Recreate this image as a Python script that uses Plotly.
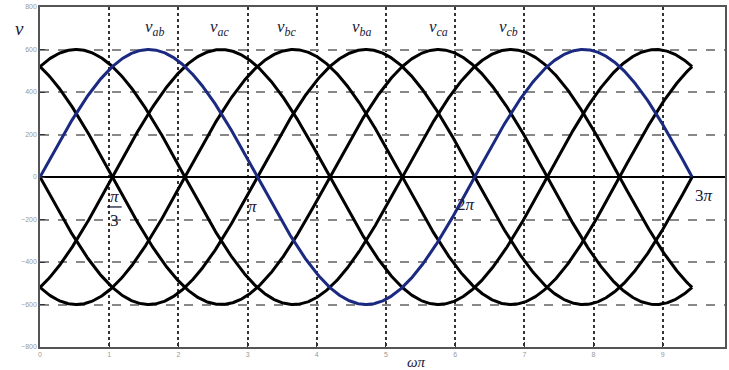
import numpy as np
import plotly.graph_objects as go

# Line-to-line voltages of a three-phase source, peak 600 V
amplitude = 600
phase_names = ["v_ab", "v_ac", "v_bc", "v_ba", "v_ca", "v_cb"]
phase_shift_steps = [0, 1, 2, 3, 4, 5]          # shift in multiples of pi/3
curve_colors = ["#1b2a80", "black", "black", "black", "black", "black"]

x_end = 3 * np.pi
label_x = [1.66, 2.59, 3.56, 4.64, 5.76, 6.77]
label_y = [700, 700, 700, 700, 700, 700]
label_subs = ["ab", "ac", "bc", "ba", "ca", "cb"]

y_ticks = [-800, -600, -400, -200, 0, 200, 400, 600, 800]
x_ticks = [0, 1, 2, 3, 4, 5, 6, 7, 8, 9]

wt = np.linspace(0, x_end, 800)

fig = go.Figure()
order = [1, 2, 3, 4, 5, 0]   # draw the blue wave last so it sits on top
for i in order:
    k = phase_shift_steps[i]
    fig.add_trace(go.Scatter(
        x=wt, y=amplitude * np.sin(wt - k * np.pi / 3),
        mode="lines", name=phase_names[i],
        line=dict(color=curve_colors[i], width=3),
        hoverinfo="skip",
    ))

serif = "Liberation Serif, Times New Roman, serif"
label_color = "#1a1a3a"

for lx, ly, sub in zip(label_x, label_y, label_subs):
    fig.add_annotation(x=lx, y=ly, text=f"<i>v<sub>{sub}</sub></i>", showarrow=False,
                       font=dict(family=serif, size=17, color=label_color))

# vertical axis symbol, left of the plot box
fig.add_annotation(xref="paper", yref="y", x=-0.04, y=700,
                   text="<i>v</i>", showarrow=False,
                   font=dict(family=serif, size=19, color=label_color))

# multiples of pi on the time axis
fig.add_annotation(x=1.07, y=-92, text="<i>π</i>", showarrow=False,
                   font=dict(family=serif, size=17, color=label_color))
fig.add_shape(type="line", x0=0.97, x1=1.18, y0=-141, y1=-141,
              line=dict(color=label_color, width=1.3))
fig.add_annotation(x=1.07, y=-205, text="3", showarrow=False,
                   font=dict(family=serif, size=17, color=label_color))
fig.add_annotation(x=3.07, y=-138, text="<i>π</i>", showarrow=False,
                   font=dict(family=serif, size=17, color=label_color))
fig.add_annotation(x=6.16, y=-128, text="2<i>π</i>", showarrow=False,
                   font=dict(family=serif, size=17, color=label_color))
fig.add_annotation(x=9.6, y=-88, text="3<i>π</i>", showarrow=False,
                   font=dict(family=serif, size=17, color=label_color))

fig.add_annotation(xref="paper", yref="paper", x=0.549, y=-0.015,
                   yanchor="top", text="<i>ωπ</i>", showarrow=False,
                   font=dict(family=serif, size=15, color=label_color))

fig.update_layout(
    width=729, height=370,
    margin=dict(l=40, r=2, t=7, b=23),
    paper_bgcolor="white", plot_bgcolor="white",
    showlegend=False,
    xaxis=dict(
        range=[0, 9.9], tickvals=x_ticks, ticks="inside", ticklen=5,
        tickcolor="#333", tickfont=dict(size=7, color="#999", family="Arial"),
        showgrid=True, gridcolor="#333", griddash="dot", gridwidth=1.6,
        showline=True, linecolor="#555", linewidth=1.5, mirror=True,
        zeroline=False,
    ),
    yaxis=dict(
        range=[-800, 800], tickvals=y_ticks, ticks="inside", ticklen=5,
        tickcolor="#333", tickfont=dict(size=7, color="#999", family="Arial"),
        showgrid=True, gridcolor="#888", griddash="dash", gridwidth=1.6,
        showline=True, linecolor="#555", linewidth=1.5, mirror=True,
        zeroline=True, zerolinecolor="black", zerolinewidth=2,
    ),
)

fig.write_html("out.html")
